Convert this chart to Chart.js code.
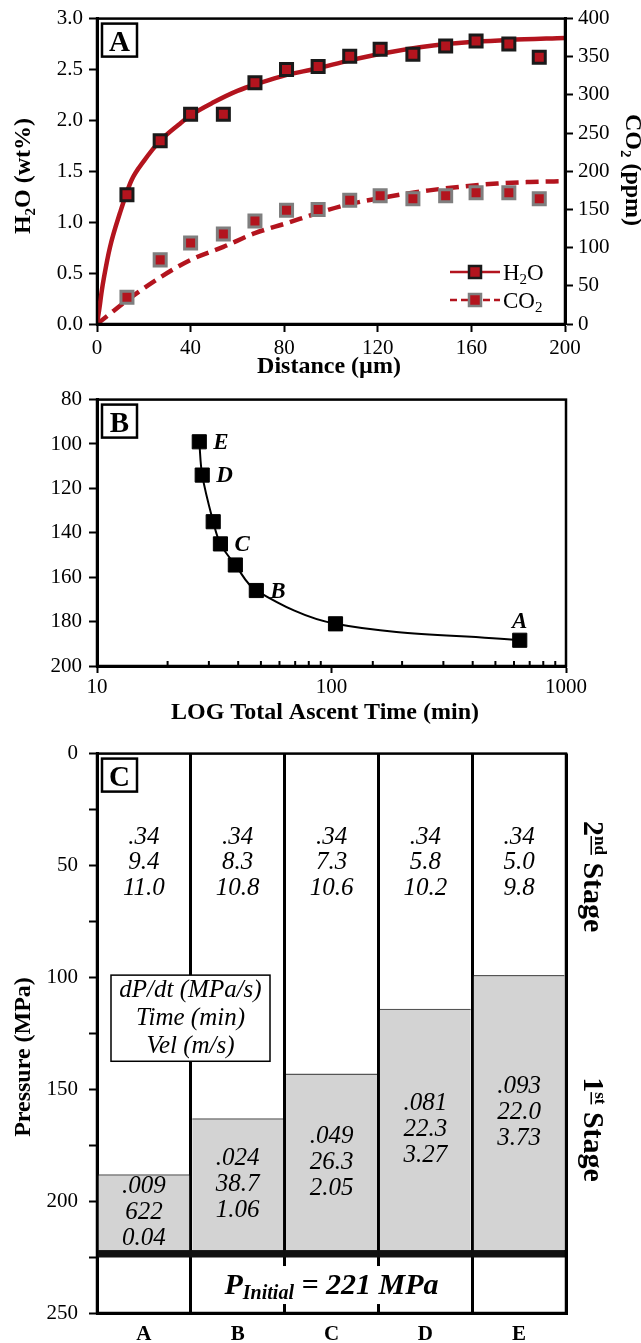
<!DOCTYPE html>
<html>
<head>
<meta charset="utf-8">
<script src="https://cdn.jsdelivr.net/npm/chart.js@4.4.0/dist/chart.umd.min.js"></script>
<style>
body { margin: 0; background: #fff; width: 641px; height: 1343px; position: relative; overflow: hidden; }
canvas { position: absolute; left: 0; }
</style>
</head>
<body>
<canvas id="chartA" width="641" height="380" style="top:0"></canvas>
<canvas id="chartB" width="641" height="350" style="top:380px"></canvas>
<canvas id="chartC" width="641" height="613" style="top:730px"></canvas>
<script>
// Panel A - melt inclusion diffusion profiles
const distance = [12.8, 27, 40, 54, 67.5, 81, 94.5, 108, 121, 135, 149, 162, 176, 189];
const h2oWt = [1.27, 1.80, 2.06, 2.06, 2.37, 2.50, 2.53, 2.63, 2.70, 2.65, 2.73, 2.78, 2.75, 2.62];
const co2Ppm = [35, 84, 106, 118, 135, 149, 150, 162, 168, 164, 168, 172, 172, 164];
const h2oFitX = [0, 1, 2, 3, 5.5, 9.8, 14.7, 20, 27, 35, 40, 50, 60, 70, 80, 94, 108, 125, 149, 176, 200];
const h2oFitY = [0, 0.15, 0.32, 0.46, 0.75, 1.09, 1.41, 1.6, 1.8, 1.96, 2.05, 2.18, 2.29, 2.37, 2.44, 2.51, 2.59, 2.67, 2.75, 2.79, 2.81];
const co2FitX = [0, 5, 12.8, 27, 40, 54, 67.5, 81, 95, 108, 125, 142, 156, 171, 185, 200];
const co2FitY = [0, 12, 31, 61, 84, 101, 119, 132, 146, 157, 167, 175, 180, 184, 186, 187];

// Panel B - intermediate pressure vs total ascent time
const ascentTime = [27.3, 28.1, 31.3, 33.6, 38.9, 47.8, 104, 635];
const interPressure = [99, 114, 135, 145, 154.5, 166, 181, 188.4];
const runLabels = ['E', 'D', '', 'C', '', 'B', '', 'A'];
const majorTimes = [10, 100, 1000];

// Panel C - two stage ascent
const runs = ['A', 'B', 'C', 'D', 'E'];
const pIntermediate = [188, 163, 143, 114, 99];
const initialBand = [222, 225];
const pInitial = 221;
const stage2Rate = ['.34', '.34', '.34', '.34', '.34'];
const stage2Time = ['9.4', '8.3', '7.3', '5.8', '5.0'];
const stage2Vel = ['11.0', '10.8', '10.6', '10.2', '9.8'];
const stage1Rate = ['.009', '.024', '.049', '.081', '.093'];
const stage1Time = ['622', '38.7', '26.3', '22.3', '22.0'];
const stage1Vel = ['0.04', '1.06', '2.05', '3.27', '3.73'];

const serif = '"Liberation Serif", "Times New Roman", serif';
const red = '#b3141e';
Chart.defaults.color = '#000';
Chart.defaults.font.family = serif;

const tickFont = { family: serif, size: 21 };
const axisGrid = { drawOnChartArea: false, tickLength: 8, tickWidth: 2, tickColor: '#000' };
const axisBorder = { color: '#000', width: 3 };

// draws text made of several runs (subscripts etc), centred on x,y
function richText(ctx, parts, x, y, angle) {
    ctx.save();
    ctx.translate(x, y);
    ctx.rotate(angle || 0);
    ctx.textBaseline = 'alphabetic';
    ctx.textAlign = 'left';
    let w = 0;
    parts.forEach(p => { ctx.font = p.f; p.w = ctx.measureText(p.t).width; w += p.w; });
    let cx = -w / 2;
    parts.forEach(p => {
        ctx.font = p.f;
        ctx.fillStyle = '#000';
        ctx.fillText(p.t, cx, p.dy || 0);
        if (p.u) ctx.fillRect(cx, (p.dy || 0) + 3, p.w, 1.5);
        cx += p.w;
    });
    ctx.restore();
}

function boxLabel(ctx, area, letter) {
    ctx.save();
    ctx.fillStyle = '#fff';
    ctx.fillRect(area.left + 5, area.top + 5, 35, 33);
    ctx.strokeStyle = '#000';
    ctx.lineWidth = 2.5;
    ctx.strokeRect(area.left + 5, area.top + 5, 35, 33);
    ctx.fillStyle = '#000';
    ctx.font = 'bold 29px ' + serif;
    ctx.textAlign = 'center';
    ctx.textBaseline = 'alphabetic';
    ctx.fillText(letter, area.left + 22.5, area.top + 32);
    ctx.restore();
}

const framePlugin = {
    id: 'frame',
    afterDraw(chart) {
        const { ctx, chartArea: a } = chart;
        ctx.save();
        ctx.strokeStyle = '#000';
        ctx.lineWidth = 2.5;
        ctx.strokeRect(a.left, a.top, a.right - a.left, a.bottom - a.top);
        ctx.restore();
    }
};

// Panel A
const bold24 = 'bold 24px ' + serif;
const bold15 = 'bold 15px ' + serif;
const panelAText = {
    id: 'panelAText',
    afterDraw(chart) {
        const { ctx, chartArea: a } = chart;
        boxLabel(ctx, a, 'A');
        richText(ctx, [{ t: 'H', f: bold24 }, { t: '2', f: bold15, dy: 5 }, { t: 'O (wt%)', f: bold24 }], 30, 176, -Math.PI / 2);
        richText(ctx, [{ t: 'CO', f: bold24 }, { t: '2', f: bold15, dy: 5 }, { t: ' (ppm)', f: bold24 }], 626, 170, Math.PI / 2);
        richText(ctx, [{ t: 'Distance (µm)', f: bold24 }], 329, 373);

        // legend
        const reg = '23px ' + serif, sub = '15px ' + serif;
        [[272, [], '#1a1a1a', 'H', 'O'], [300, [7, 4], '#7f7f7f', 'CO', '']].forEach(([ly, dash, edge, pre, post]) => {
            ctx.save();
            ctx.strokeStyle = red;
            ctx.lineWidth = 2.5;
            ctx.setLineDash(dash);
            ctx.beginPath(); ctx.moveTo(450, ly); ctx.lineTo(500, ly); ctx.stroke();
            ctx.setLineDash([]);
            ctx.fillStyle = red;
            ctx.fillRect(469, ly - 6, 12, 12);
            ctx.lineWidth = 2.5;
            ctx.strokeStyle = edge;
            ctx.strokeRect(469, ly - 6, 12, 12);
            ctx.restore();
            const parts = [{ t: pre, f: reg }, { t: '2', f: sub, dy: 4 }];
            if (post) parts.push({ t: post, f: reg });
            ctx.save();
            let w = 0; parts.forEach(p => { ctx.font = p.f; w += ctx.measureText(p.t).width; });
            ctx.restore();
            richText(ctx, parts, 503 + w / 2, ly + 8);
        });
    }
};

new Chart(document.getElementById('chartA'), {
    type: 'scatter',
    data: {
        datasets: [
            {
                data: distance.map((x, i) => ({ x, y: h2oWt[i] })),
                yAxisID: 'y', pointStyle: 'rect', pointRadius: 8.5,
                pointBackgroundColor: red, pointBorderColor: '#1a1a1a', pointBorderWidth: 3
            },
            {
                data: distance.map((x, i) => ({ x, y: co2Ppm[i] })),
                yAxisID: 'y2', pointStyle: 'rect', pointRadius: 8.5,
                pointBackgroundColor: red, pointBorderColor: '#7f7f7f', pointBorderWidth: 3
            },
            {
                data: h2oFitX.map((x, i) => ({ x, y: h2oFitY[i] })),
                yAxisID: 'y', showLine: true, pointRadius: 0, borderColor: red, borderWidth: 4.5,
                cubicInterpolationMode: 'monotone'
            },
            {
                data: co2FitX.map((x, i) => ({ x, y: co2FitY[i] })),
                yAxisID: 'y2', showLine: true, pointRadius: 0, borderColor: red, borderWidth: 4.5,
                borderDash: [13, 7], cubicInterpolationMode: 'monotone'
            }
        ]
    },
    options: {
        responsive: false, animation: false, devicePixelRatio: 1,
        layout: { padding: { top: 18 } },
        plugins: { legend: { display: false }, tooltip: { enabled: false } },
        scales: {
            x: {
                type: 'linear', min: 0, max: 200,
                ticks: { stepSize: 40, font: tickFont, padding: 4, maxRotation: 0 },
                grid: axisGrid, border: axisBorder,
                afterFit: s => { s.height = 56; }
            },
            y: {
                position: 'left', min: 0, max: 3,
                ticks: { stepSize: 0.5, font: tickFont, padding: 6, callback: v => v.toFixed(1) },
                grid: axisGrid, border: axisBorder,
                afterFit: s => { s.width = 97; }
            },
            y2: {
                position: 'right', min: 0, max: 400,
                ticks: { stepSize: 50, font: tickFont, padding: 5 },
                grid: axisGrid, border: axisBorder,
                afterFit: s => { s.width = 76; }
            }
        }
    },
    plugins: [framePlugin, panelAText]
});

// Panel B
const panelBText = {
    id: 'panelBText',
    afterDraw(chart) {
        const { ctx, chartArea: a, scales: { x } } = chart;
        // minor log ticks pointing inward
        ctx.save();
        ctx.strokeStyle = '#000';
        ctx.lineWidth = 2;
        x.ticks.forEach(t => {
            if (majorTimes.includes(t.value)) return;
            const px = x.getPixelForValue(t.value);
            ctx.beginPath(); ctx.moveTo(px, a.bottom); ctx.lineTo(px, a.bottom - 5); ctx.stroke();
        });
        ctx.restore();

        boxLabel(ctx, a, 'B');
        const meta = chart.getDatasetMeta(0);
        ctx.save();
        ctx.font = 'bold italic 23px ' + serif;
        ctx.fillStyle = '#000';
        ctx.textBaseline = 'alphabetic';
        runLabels.forEach((lab, i) => {
            if (!lab) return;
            const p = meta.data[i];
            if (lab === 'A') {
                ctx.textAlign = 'center';
                ctx.fillText(lab, p.x, p.y - 12);
            } else {
                ctx.textAlign = 'left';
                ctx.fillText(lab, p.x + 14, p.y + 7);
            }
        });
        ctx.restore();
        richText(ctx, [{ t: 'Intermediate Pressure (MPa)', f: bold24 }], 30, 552, -Math.PI / 2);
        richText(ctx, [{ t: 'LOG Total Ascent Time (min)', f: bold24 }], 325, 339);
    }
};

new Chart(document.getElementById('chartB'), {
    type: 'scatter',
    data: {
        datasets: [{
            data: ascentTime.map((x, i) => ({ x, y: interPressure[i] })),
            showLine: true, borderColor: '#000', borderWidth: 2, tension: 0.35,
            pointStyle: 'rect', pointRadius: 10, pointBackgroundColor: '#000', pointBorderColor: '#000', pointBorderWidth: 1
        }]
    },
    options: {
        responsive: false, animation: false, devicePixelRatio: 1,
        layout: { padding: { top: 17, right: 75 } },
        plugins: { legend: { display: false }, tooltip: { enabled: false } },
        scales: {
            x: {
                type: 'logarithmic', min: 10, max: 1000,
                ticks: {
                    font: tickFont, padding: 2, autoSkip: false, maxRotation: 0,
                    callback: v => majorTimes.includes(v) ? String(v) : ''
                },
                grid: {
                    drawOnChartArea: false, tickLength: 7, tickWidth: 2,
                    tickColor: c => (c.tick && majorTimes.includes(c.tick.value)) ? '#000' : 'rgba(0,0,0,0)'
                },
                border: axisBorder,
                afterFit: s => { s.height = 64; }
            },
            y: {
                reverse: true, min: 80, max: 200,
                ticks: { stepSize: 20, font: tickFont, padding: 7 },
                grid: axisGrid, border: axisBorder,
                afterFit: s => { s.width = 97; }
            }
        }
    },
    plugins: [framePlugin, panelBText]
});

// Panel C
const ital25 = 'italic 25px ' + serif;
const panelCText = {
    id: 'panelCText',
    afterDraw(chart) {
        const { ctx, chartArea: a, scales: { x, y } } = chart;
        boxLabel(ctx, a, 'C');
        ctx.save();
        ctx.font = ital25;
        ctx.fillStyle = '#000';
        ctx.textAlign = 'center';
        ctx.textBaseline = 'middle';
        runs.forEach((r, i) => {
            const cx = x.getPixelForValue(i);
            const c2 = y.getPixelForValue(48.7);
            [stage2Rate[i], stage2Time[i], stage2Vel[i]].forEach((t, k) => ctx.fillText(t, cx, c2 + (k - 1) * 25.5));
            const c1 = (y.getPixelForValue(pIntermediate[i]) + y.getPixelForValue(initialBand[0])) / 2;
            [stage1Rate[i], stage1Time[i], stage1Vel[i]].forEach((t, k) => ctx.fillText(t, cx, c1 + (k - 1) * 26));
        });

        // key box
        const kt = y.getPixelForValue(99), kb = y.getPixelForValue(137.5);
        ctx.fillStyle = '#fff';
        ctx.fillRect(a.left + 14, kt, 159, kb - kt);
        ctx.strokeStyle = '#000';
        ctx.lineWidth = 1.5;
        ctx.strokeRect(a.left + 14, kt, 159, kb - kt);
        ctx.fillStyle = '#000';
        const kc = (kt + kb) / 2;
        ['dP/dt (MPa/s)', 'Time (min)', 'Vel (m/s)'].forEach((t, k) => ctx.fillText(t, a.left + 93.5, kc + (k - 1) * 28));

        // initial pressure label
        const pc = (y.getPixelForValue(initialBand[1]) + y.getPixelForValue(250)) / 2;
        const mid = (a.left + a.right) / 2;
        ctx.fillStyle = '#fff';
        ctx.fillRect(mid - 113, pc - 19, 226, 38);
        ctx.restore();
        richText(ctx, [
            { t: 'P', f: 'bold italic 30px ' + serif },
            { t: 'Initial', f: 'bold italic 20px ' + serif, dy: 5 },
            { t: ' = ' + pInitial + ' MPa', f: 'bold italic 30px ' + serif }
        ], mid, pc + 9);

        const b30 = 'bold 30px ' + serif, b17 = 'bold 17px ' + serif;
        richText(ctx, [{ t: '2', f: b30 }, { t: 'nd', f: b17, dy: -11, u: true }, { t: ' Stage', f: b30 }],
            584, y.getPixelForValue(55), Math.PI / 2);
        richText(ctx, [{ t: '1', f: b30 }, { t: 'st', f: b17, dy: -11, u: true }, { t: ' Stage', f: b30 }],
            584, y.getPixelForValue(168), Math.PI / 2);
        richText(ctx, [{ t: 'Pressure (MPa)', f: bold24 }], 30, 327, -Math.PI / 2);
    }
};

new Chart(document.getElementById('chartC'), {
    type: 'bar',
    data: {
        labels: runs,
        datasets: [
            {
                data: pIntermediate.map(p => [p, initialBand[0]]),
                backgroundColor: '#d3d3d3', borderColor: '#555',
                borderWidth: { top: 1.5, right: 0, bottom: 0, left: 0 }, borderSkipped: false,
                barPercentage: 0.97, categoryPercentage: 1, grouped: false
            },
            {
                data: runs.map(() => initialBand),
                backgroundColor: '#111', borderWidth: 0,
                barPercentage: 1, categoryPercentage: 1, grouped: false
            }
        ]
    },
    options: {
        responsive: false, animation: false, devicePixelRatio: 1,
        layout: { padding: { top: 18, right: 75 } },
        plugins: { legend: { display: false }, tooltip: { enabled: false } },
        scales: {
            x: {
                ticks: { font: { family: serif, size: 21, weight: 'bold' }, padding: 9 },
                grid: { offset: true, color: '#000', lineWidth: 3, drawTicks: false },
                border: axisBorder,
                afterFit: s => { s.height = 30; }
            },
            y: {
                reverse: true, min: 0, max: 250,
                ticks: { stepSize: 25, font: tickFont, padding: 11, autoSkip: false, callback: v => v % 50 === 0 ? String(v) : '' },
                grid: axisGrid, border: axisBorder,
                afterFit: s => { s.width = 97; }
            }
        }
    },
    plugins: [framePlugin, panelCText]
});
</script>
</body>
</html>
